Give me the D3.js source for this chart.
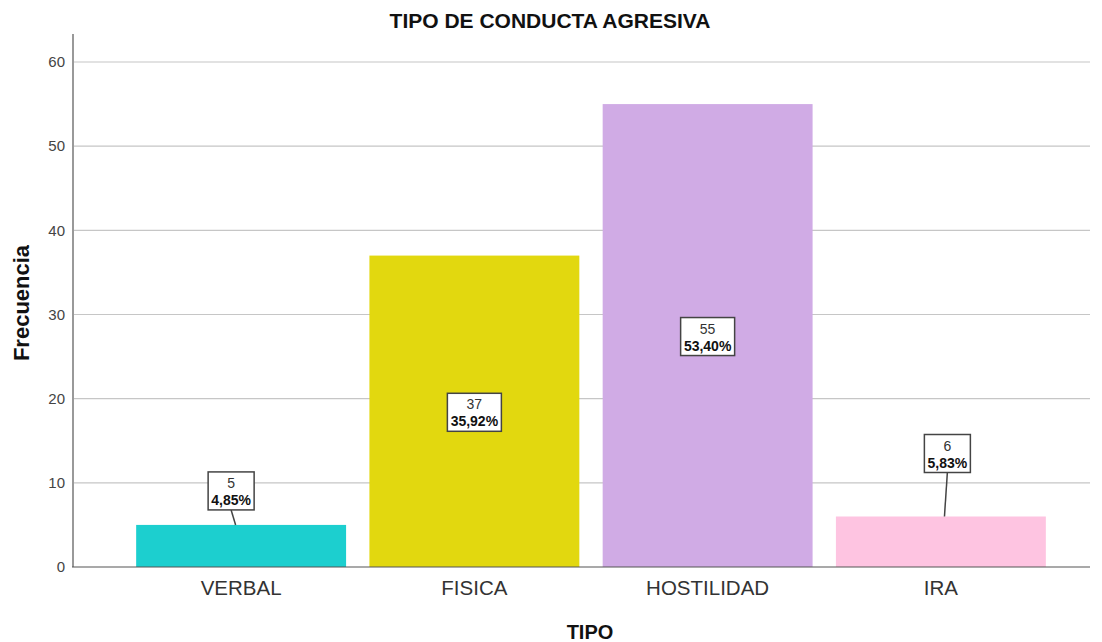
<!DOCTYPE html>
<html>
<head>
<meta charset="utf-8">
<script src="https://cdn.jsdelivr.net/npm/d3@7"></script>
<style>
  body { margin: 0; background: #fff; }
  svg { font-family: "Liberation Sans", Arial, sans-serif; }
</style>
</head>
<body>
<svg></svg>
<script>
const categories = ["VERBAL", "FISICA", "HOSTILIDAD", "IRA"];
const counts = [5, 37, 55, 6];
const percents = ["4,85%", "35,92%", "53,40%", "5,83%"];
const yTicks = [0, 10, 20, 30, 40, 50, 60];
const colors = ["#1ccfcf", "#e2d80f", "#d0abe5", "#fec4e1"];

// label placement: null = centred in bar, else px above bar top; plus x shift
const labelLift = [34, null, null, 63];
const labelShift = [-10, 0, 0, 6.5];

const width = 1102;
const height = 642;

const svg = d3.select("svg")
    .attr("width", width)
    .attr("height", height);

const yScale = d3.scaleLinear()
    .domain([0, 60])
    .range([567, 62]);

const xScale = d3.scaleBand()
    .domain(categories)
    .range([124.5, 1057.5])
    .paddingInner(0.1)
    .paddingOuter(0.05);

const axisLeftX = 73;
const axisRightX = 1090;

// grid
svg.append('g')
    .selectAll('line')
    .data(yTicks.filter(d => d > 0))
    .enter()
    .append('line')
    .attr('x1', axisLeftX)
    .attr('x2', axisRightX)
    .attr('y1', d => yScale(d))
    .attr('y2', d => yScale(d))
    .attr('stroke', '#c6c6c6')
    .attr('stroke-width', 1.2);

// y axis
const yAxis = d3.axisLeft(yScale).tickValues(yTicks).tickSize(0).tickPadding(8);
const yg = svg.append('g')
    .attr('transform', `translate(${axisLeftX}, 0)`)
    .call(yAxis);
yg.select('.domain').remove();
yg.selectAll('text')
    .attr('font-size', 15)
    .attr('fill', '#444')
    .attr('font-family', '"Liberation Sans", Arial, sans-serif');

svg.append('line')
    .attr('x1', axisLeftX).attr('x2', axisLeftX)
    .attr('y1', 34).attr('y2', yScale(0))
    .attr('stroke', '#999')
    .attr('stroke-width', 2);

// bars
svg.selectAll('.bar')
    .data(categories)
    .enter()
    .append('rect')
    .attr('class', 'bar')
    .attr('x', d => xScale(d))
    .attr('width', xScale.bandwidth())
    .attr('y', (d, i) => yScale(counts[i]))
    .attr('height', (d, i) => yScale(0) - yScale(counts[i]))
    .attr('fill', (d, i) => colors[i]);

// x axis
const xAxis = d3.axisBottom(xScale).tickSize(0).tickPadding(13);
const xg = svg.append('g')
    .attr('transform', `translate(0, ${yScale(0)})`)
    .call(xAxis);
xg.select('.domain').remove();
xg.selectAll('text')
    .attr('font-size', 20.5)
    .attr('fill', '#333')
    .attr('font-family', '"Liberation Sans", Arial, sans-serif');

svg.append('line')
    .attr('x1', axisLeftX - 1).attr('x2', axisRightX)
    .attr('y1', yScale(0)).attr('y2', yScale(0))
    .attr('stroke', '#555')
    .attr('stroke-width', 1.2);

// labels
categories.forEach((c, i) => {
    const cx = xScale(c) + xScale.bandwidth() / 2;
    const top = yScale(counts[i]);
    const cy = labelLift[i] === null ? (top + yScale(0)) / 2 + 1 : top - labelLift[i];
    const bx = cx + labelShift[i];
    const w = percents[i].length > 5 ? 54 : 46;
    const h = 38;
    const g = svg.append('g');
    if (labelLift[i] !== null) {
        g.append('line')
            .attr('x1', bx).attr('y1', cy + h / 2)
            .attr('x2', bx + (cx - bx) * 0.45).attr('y2', top)
            .attr('stroke', '#444')
            .attr('stroke-width', 1.5);
    }
    g.append('rect')
        .attr('x', bx - w / 2)
        .attr('y', cy - h / 2)
        .attr('width', w)
        .attr('height', h)
        .attr('fill', '#fff')
        .attr('stroke', '#444')
        .attr('stroke-width', 1.5);
    g.append('text')
        .attr('x', bx)
        .attr('y', cy - 3)
        .attr('text-anchor', 'middle')
        .attr('font-size', 14)
        .attr('fill', '#333')
        .text(counts[i]);
    g.append('text')
        .attr('x', bx)
        .attr('y', cy + 14)
        .attr('text-anchor', 'middle')
        .attr('font-size', 14)
        .attr('font-weight', 'bold')
        .attr('fill', '#111')
        .text(percents[i]);
});

// titles
svg.append('text')
    .attr('x', 550)
    .attr('y', 28)
    .attr('text-anchor', 'middle')
    .attr('font-size', 21)
    .attr('font-weight', 'bold')
    .attr('fill', '#111')
    .text('TIPO DE CONDUCTA AGRESIVA');

svg.append('text')
    .attr('x', 590)
    .attr('y', 639)
    .attr('text-anchor', 'middle')
    .attr('font-size', 20)
    .attr('font-weight', 'bold')
    .attr('fill', '#111')
    .text('TIPO');

svg.append('text')
    .attr('transform', 'translate(29, 303) rotate(-90)')
    .attr('text-anchor', 'middle')
    .attr('font-size', 22)
    .attr('font-weight', 'bold')
    .attr('fill', '#111')
    .text('Frecuencia');
</script>
</body>
</html>
